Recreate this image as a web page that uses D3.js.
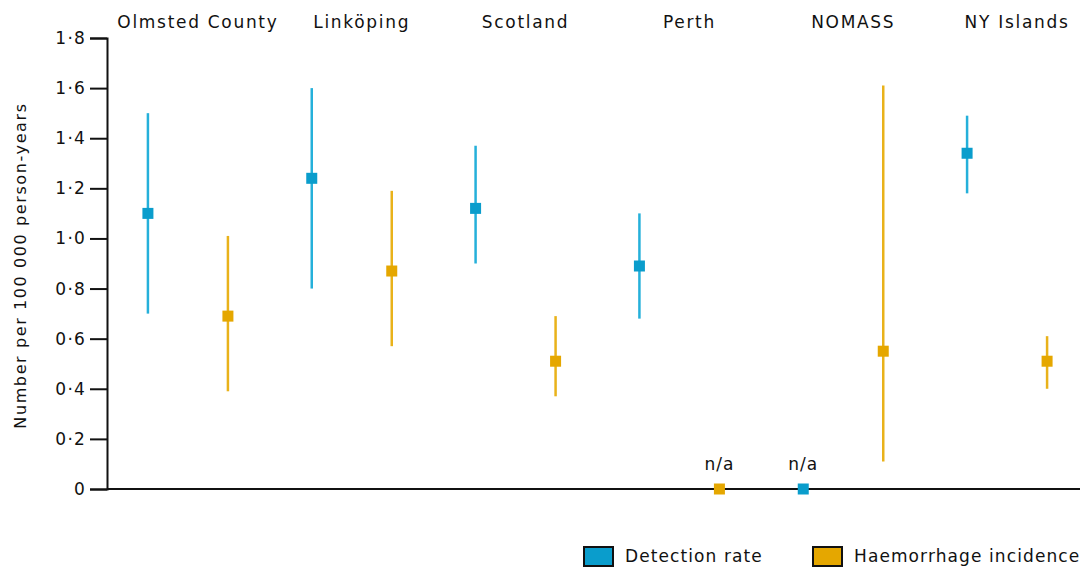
<!DOCTYPE html>
<html>
<head>
<meta charset="utf-8">
<script src="https://cdnjs.cloudflare.com/ajax/libs/d3/7.8.5/d3.min.js"></script>
<style>
  body { margin: 0; background: #fff; }
  text { font-family: "DejaVu Sans", sans-serif; fill: #111; }
</style>
</head>
<body>
<div id="chart"></div>
<script>
// data
var sites = ["Olmsted County", "Linköping", "Scotland", "Perth", "NOMASS", "NY Islands"];
var series = ["Detection rate", "Haemorrhage incidence"];
// null = n/a
var detection =      [1.10, 1.24, 1.12, 0.89, null, 1.34];
var detectionLow =   [0.70, 0.80, 0.90, 0.68, null, 1.18];
var detectionHigh =  [1.50, 1.60, 1.37, 1.10, null, 1.49];
var haemorrhage =    [0.69, 0.87, 0.51, null, 0.55, 0.51];
var haemorrhageLow = [0.39, 0.57, 0.37, null, 0.11, 0.40];
var haemorrhageHigh= [1.01, 1.19, 0.69, null, 1.61, 0.61];
var yTicks = [0, 0.2, 0.4, 0.6, 0.8, 1.0, 1.2, 1.4, 1.6, 1.8];

var colors = { "Detection rate": "#0a9dcc", "Haemorrhage incidence": "#e5a700" };
var lineColors = { "Detection rate": "#25b0da", "Haemorrhage incidence": "#e9b21a" };

var width = 1082, height = 574;
var svg = d3.select("#chart").append("svg")
  .attr("width", width).attr("height", height);

var x = d3.scaleBand().domain(sites).range([106, 1089]);
var inner = d3.scalePoint().domain(series).range([-40, 40]);
var y = d3.scaleLinear().domain([0, 1.8]).range([489, 38]);

// build rows
var rows = [];
sites.forEach(function(s, i) {
  rows.push({site: s, series: series[0], v: detection[i], lo: detectionLow[i], hi: detectionHigh[i]});
  rows.push({site: s, series: series[1], v: haemorrhage[i], lo: haemorrhageLow[i], hi: haemorrhageHigh[i]});
});

// y axis
var yAxis = svg.append("g")
  .attr("transform", "translate(107,0)")
  .call(d3.axisLeft(y).tickValues(yTicks).tickSize(17).tickPadding(4)
    .tickFormat(function(d) { return d === 0 ? "0" : d3.format(".1f")(d).replace(".", "·"); }));
yAxis.select(".domain").attr("stroke", "#111").attr("stroke-width", 2);
yAxis.selectAll(".tick line").attr("stroke", "#111").attr("stroke-width", 2);
yAxis.selectAll(".tick text").attr("font-size", 17).attr("font-family", "DejaVu Sans, sans-serif")
  .attr("letter-spacing", 1.2).attr("fill", "#111");

// x axis line
svg.append("line")
  .attr("x1", 107).attr("x2", 1080)
  .attr("y1", y(0)).attr("y2", y(0))
  .attr("stroke", "#111").attr("stroke-width", 2);

// y title
svg.append("text")
  .attr("transform", "translate(26," + ((y(0) + y(1.8)) / 2 + 2) + ") rotate(-90)")
  .attr("text-anchor", "middle")
  .attr("font-size", 16)
  .attr("letter-spacing", 1.6)
  .text("Number per 100 000 person-years");

// site labels
svg.selectAll(".site").data(sites).enter().append("text")
  .attr("class", "site")
  .attr("x", function(d) { return x(d) + x.bandwidth() / 2 + 10; })
  .attr("y", 28)
  .attr("text-anchor", "middle")
  .attr("font-size", 17)
  .attr("letter-spacing", 1.7)
  .text(function(d) { return d; });

var px = function(d) { return x(d.site) + x.bandwidth() / 2 + inner(d.series); };

// error bars
svg.selectAll(".err").data(rows.filter(function(d) { return d.v !== null; })).enter().append("line")
  .attr("class", "err")
  .attr("x1", px).attr("x2", px)
  .attr("y1", function(d) { return y(d.lo); })
  .attr("y2", function(d) { return y(d.hi); })
  .attr("stroke", function(d) { return lineColors[d.series]; })
  .attr("stroke-width", 2.5);

// points (n/a drawn at zero)
svg.selectAll(".pt").data(rows).enter().append("rect")
  .attr("class", "pt")
  .attr("x", function(d) { return px(d) - 5.5; })
  .attr("y", function(d) { return y(d.v === null ? 0 : d.v) - 5.5; })
  .attr("width", 11).attr("height", 11)
  .attr("fill", function(d) { return colors[d.series]; });

// n/a labels
svg.selectAll(".na").data(rows.filter(function(d) { return d.v === null; })).enter().append("text")
  .attr("class", "na")
  .attr("x", px)
  .attr("y", y(0) - 19)
  .attr("text-anchor", "middle")
  .attr("font-size", 17)
  .attr("letter-spacing", 1)
  .text("n/a");

// legend
var leg = svg.selectAll(".leg").data(series).enter().append("g")
  .attr("class", "leg")
  .attr("transform", function(d, i) { return "translate(" + (584 + i * 229) + ",547)"; });
leg.append("rect")
  .attr("width", 29).attr("height", 19)
  .attr("fill", function(d) { return colors[d]; })
  .attr("stroke", "#111").attr("stroke-width", 2);
leg.append("text")
  .attr("x", 41).attr("y", 15)
  .attr("font-size", 17)
  .attr("letter-spacing", 1.1)
  .text(function(d) { return d; });
</script>
</body>
</html>
